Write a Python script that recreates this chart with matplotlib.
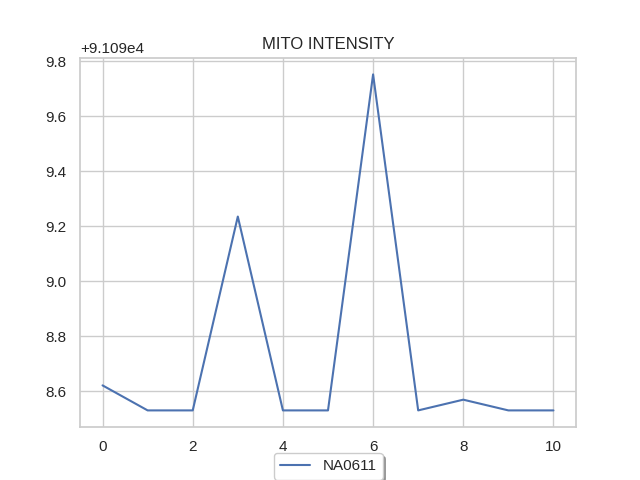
import matplotlib
matplotlib.use("Agg")
import matplotlib.pyplot as plt
import seaborn as sns

# Mito intensity per frame
frames = list(range(11))
intensity = [91098.622, 91098.531, 91098.531, 91099.236, 91098.531, 91098.531,
             91099.753, 91098.531, 91098.570, 91098.531, 91098.531]
label = "NA0611"

sns.set_theme(style="whitegrid")
plt.rcParams["font.family"] = ["Arial", "Liberation Sans", "DejaVu Sans"]

fig, ax = plt.subplots(figsize=(6.4, 4.8), dpi=100)
ax.plot(frames, intensity, label=label)
ax.set_title("MITO INTENSITY")
ax.legend(loc="upper center", bbox_to_anchor=(0.5, -0.05), shadow=True, frameon=True)

fig.savefig("out.png", dpi=100)
